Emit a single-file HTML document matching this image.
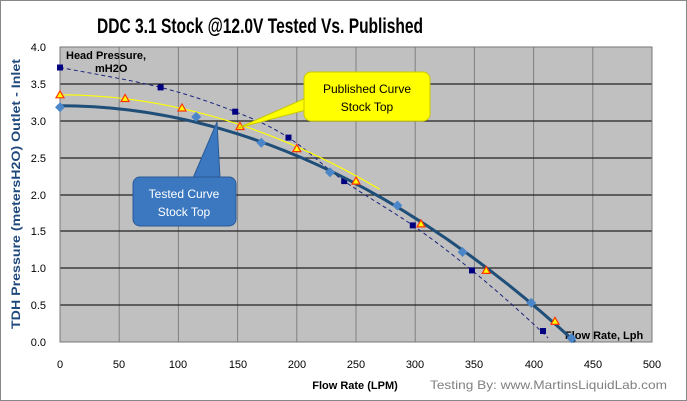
<!DOCTYPE html>
<html><head><meta charset="utf-8"><style>
html,body{margin:0;padding:0;background:#fff}
svg{display:block}
text{font-family:"Liberation Sans",sans-serif}
</style></head><body>
<svg width="687" height="401" viewBox="0 0 687 401" xmlns="http://www.w3.org/2000/svg">
<rect x="0.5" y="0.5" width="686" height="400" fill="#fff" stroke="#888"/>
<text x="97" y="33" font-size="21" font-weight="bold" textLength="326" lengthAdjust="spacingAndGlyphs">DDC 3.1 Stock @12.0V Tested Vs. Published</text>
<rect x="60" y="47" width="592" height="295" fill="#c0c0c0"/>
<g stroke="#808080" stroke-width="1">
<line x1="119.2" y1="47" x2="119.2" y2="342"/><line x1="178.4" y1="47" x2="178.4" y2="342"/>
<line x1="237.6" y1="47" x2="237.6" y2="342"/><line x1="296.8" y1="47" x2="296.8" y2="342"/>
<line x1="356" y1="47" x2="356" y2="342"/><line x1="415.2" y1="47" x2="415.2" y2="342"/>
<line x1="474.4" y1="47" x2="474.4" y2="342"/><line x1="533.6" y1="47" x2="533.6" y2="342"/>
<line x1="592.8" y1="47" x2="592.8" y2="342"/>
</g>
<g stroke="#222" stroke-width="1.3">
<line x1="60" y1="84" x2="652" y2="84"/><line x1="60" y1="121" x2="652" y2="121"/>
<line x1="60" y1="158" x2="652" y2="158"/><line x1="60" y1="195" x2="652" y2="195"/>
<line x1="60" y1="231" x2="652" y2="231"/><line x1="60" y1="268" x2="652" y2="268"/>
<line x1="60" y1="305" x2="652" y2="305"/>
</g>
<rect x="60" y="47" width="592" height="295" fill="none" stroke="#777"/>
<g font-size="11" fill="#000" text-anchor="end">
<text x="46" y="51">4.0</text><text x="46" y="88">3.5</text><text x="46" y="125">3.0</text>
<text x="46" y="162">2.5</text><text x="46" y="199">2.0</text><text x="46" y="235">1.5</text>
<text x="46" y="272">1.0</text><text x="46" y="309">0.5</text><text x="46" y="346">0.0</text>
</g>
<g font-size="11" fill="#000" text-anchor="middle">
<text x="60" y="368">0</text><text x="119" y="368">50</text><text x="178" y="368">100</text>
<text x="238" y="368">150</text><text x="297" y="368">200</text><text x="356" y="368">250</text>
<text x="415" y="368">300</text><text x="474" y="368">350</text><text x="534" y="368">400</text>
<text x="593" y="368">450</text><text x="652" y="368">500</text>
</g>
<text x="355" y="389" font-size="11" font-weight="bold" text-anchor="middle">Flow Rate (LPM)</text>
<text x="430" y="389" font-size="12" fill="#808080" textLength="237" lengthAdjust="spacingAndGlyphs">Testing By: www.MartinsLiquidLab.com</text>
<text transform="translate(20,194) rotate(-90)" font-size="12" font-weight="bold" fill="#1f497d" text-anchor="middle" textLength="270" lengthAdjust="spacingAndGlyphs">TDH Pressure (metersH2O)  Outlet - Inlet</text>
<text x="66" y="59" font-size="11" font-weight="bold">Head Pressure,</text>
<text x="95" y="72" font-size="11" font-weight="bold">mH2O</text>
<text x="565" y="339" font-size="11" font-weight="bold">Flow Rate, Lph</text>
<!-- dashed navy -->
<path d="M60,67.5 C76.8,70.8 131.4,80 160.6,87.4 C189.8,94.8 213.9,103.3 235.2,111.7 C256.5,120.1 270.3,126 288.5,137.6 C306.7,149.2 323.5,166.5 344.2,181.1 C364.9,195.7 391.5,210.5 412.8,225.4 C434.1,240.3 450.3,252.8 472,270.4 C493.7,288 531.2,321.1 548,338" fill="none" stroke="#1a237e" stroke-width="1" stroke-dasharray="4,3"/>
<g fill="#000080">
<rect x="57" y="64.5" width="6" height="6"/><rect x="157.6" y="84.4" width="6" height="6"/>
<rect x="232.2" y="108.7" width="6" height="6"/><rect x="285.5" y="134.6" width="6" height="6"/>
<rect x="341.2" y="178.1" width="6" height="6"/><rect x="409.8" y="222.4" width="6" height="6"/>
<rect x="469" y="267.4" width="6" height="6"/><rect x="540" y="328" width="6" height="6"/>
</g>
<!-- yellow published -->
<path d="M60,94.8 Q219.8,94.8 379.7,189.3" fill="none" stroke="#ffff00" stroke-width="1.2"/>
<!-- tested -->
<path d="M60,105.8 Q317.5,105.8 575,341.9" fill="none" stroke="#1f4e79" stroke-width="3"/>
<g fill="#4a86c8">
<path d="M60,102.3 l5,5 -5,5 -5,-5z"/><path d="M196.2,111.9 l5,5 -5,5 -5,-5z"/>
<path d="M261.3,137.7 l5,5 -5,5 -5,-5z"/><path d="M330,167.3 l5,5 -5,5 -5,-5z"/>
<path d="M397.4,200.5 l5,5 -5,5 -5,-5z"/><path d="M462.6,247 l5,5 -5,5 -5,-5z"/>
<path d="M531.2,297.9 l5,5 -5,5 -5,-5z"/><path d="M571.5,333.3 l5,5 -5,5 -5,-5z"/>
</g>
<g fill="#ffff00" stroke="#ff3300" stroke-width="1.2">
<path d="M60,90.8 l4,7 h-8z"/><path d="M125.1,94.5 l4,7 h-8z"/><path d="M182,104 l4,7 h-8z"/>
<path d="M240,122.5 l4,7 h-8z"/><path d="M296.8,144.6 l4,7 h-8z"/><path d="M356,177.1 l4,7 h-8z"/>
<path d="M421,219.9 l4,7 h-8z"/><path d="M486.2,266.4 l4,7 h-8z"/><path d="M555,317.3 l4,7 h-8z"/>
</g>
<!-- callouts -->
<path d="M306,98 L238,128 L306,110 Z" fill="#ffff00" stroke="#c8c800"/>
<rect x="304" y="72" width="126" height="49" rx="7" fill="#ffff00" stroke="#c8c800"/>
<text x="367" y="93" font-size="12" text-anchor="middle">Published Curve</text>
<text x="367" y="111" font-size="12" text-anchor="middle">Stock Top</text>
<path d="M193,178 L217,122 L220,178 Z" fill="#3c78c0" stroke="#2a5a96"/>
<rect x="133" y="177" width="103" height="49" rx="7" fill="#3c78c0" stroke="#2a5a96"/>
<text x="184" y="198" font-size="12" fill="#fff" text-anchor="middle">Tested Curve</text>
<text x="184" y="216" font-size="12" fill="#fff" text-anchor="middle">Stock Top</text>
</svg>
</body></html>
